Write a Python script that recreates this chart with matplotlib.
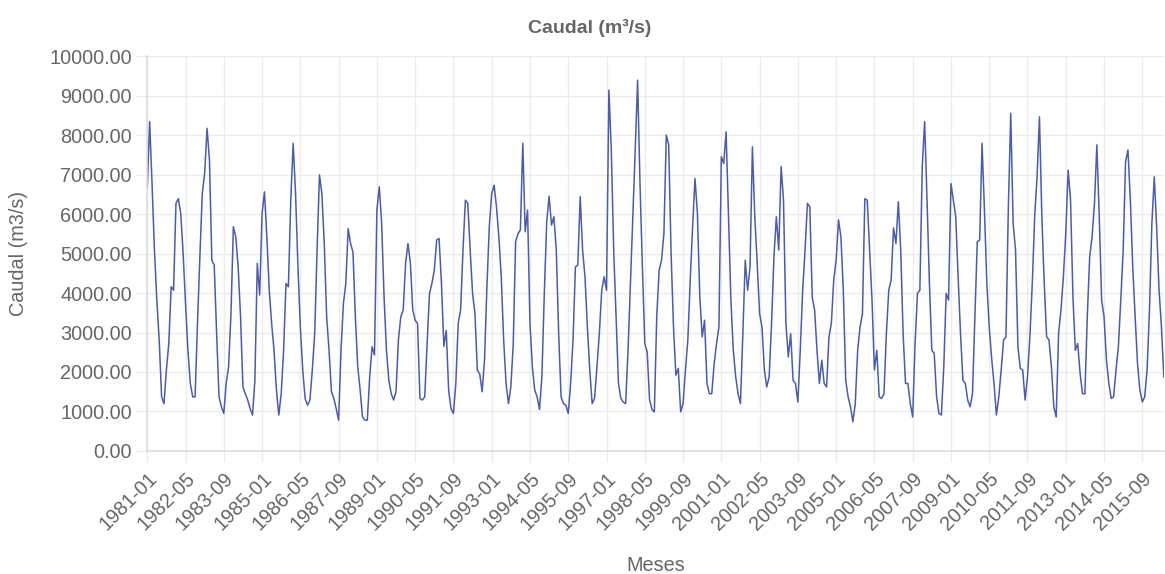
import numpy as np
import matplotlib
matplotlib.use("Agg")
import matplotlib.pyplot as plt
from matplotlib.ticker import FuncFormatter, MultipleLocator

##data (monthly flow)
start_year = 1981
caudal = [
    # 1981
    6650, 8340, 6770, 5090, 3820, 2800, 1370, 1200, 2050, 2720, 4160, 4070,
    # 1982
    6270, 6390, 6010, 5000, 3730, 2550, 1710, 1370, 1370, 3230, 4920, 6520,
    # 1983
    7030, 8170, 7370, 4830, 4710, 2970, 1370, 1120, 950, 1710, 2130, 3480,
    # 1984
    5680, 5420, 4660, 3400, 1620, 1450, 1290, 1070, 910, 1790, 4750, 3950,
    # 1985
    6010, 6560, 5420, 4070, 3230, 2550, 1540, 910, 1450, 2550, 4240, 4160,
    # 1986
    6350, 7790, 6520, 4660, 3140, 2050, 1330, 1160, 1290, 2050, 2970, 5090,
    # 1987
    6990, 6520, 5250, 3400, 2550, 1500, 1330, 1070, 780, 2550, 3730, 4240,
    # 1988
    5630, 5250, 5040, 3400, 2130, 1540, 860, 780, 780, 1880, 2640, 2430,
    # 1989
    6100, 6690, 5760, 3900, 2550, 1790, 1450, 1290, 1500, 2810, 3400, 3570,
    # 1990
    4750, 5250, 4750, 3570, 3310, 3230, 1330, 1290, 1370, 2720, 3990, 4240,
    # 1991
    4580, 5340, 5380, 4240, 2650, 3050, 1540, 1070, 950, 1710, 3230, 3570,
    # 1992
    5090, 6350, 6270, 5090, 3990, 3480, 2050, 1950, 1500, 2300, 4160, 5680,
    # 1993
    6520, 6730, 6180, 5420, 4410, 2810, 1710, 1200, 1620, 2700, 5300, 5500,
    # 1994
    5600, 7790, 5550, 6100, 3230, 2130, 1540, 1370, 1050, 1900, 4000, 5800,
    # 1995
    6450, 5720, 5930, 5090, 2970, 1370, 1200, 1160, 950, 1710, 2810, 4660,
    # 1996
    4710, 6440, 5090, 4410, 3140, 2050, 1200, 1330, 2130, 2970, 4070, 4410,
    # 1997
    4070, 9140, 7620, 5090, 3400, 1710, 1330, 1240, 1200, 2550, 4240, 5930,
    # 1998
    7620, 9390, 6770, 4660, 2720, 2510, 1300, 1050, 990, 3400, 4580, 4830,
    # 1999
    5510, 8000, 7750, 5000, 3140, 1920, 2090, 990, 1200, 2050, 2810, 4330,
    # 2000
    5680, 6900, 6010, 3900, 2890, 3310, 1710, 1450, 1450, 2210, 2720, 3140,
    # 2001
    7450, 7280, 8080, 5930, 3820, 2550, 1880, 1450, 1200, 2970, 4830, 4070,
    # 2002
    4660, 7700, 5930, 4750, 3480, 3140, 2050, 1620, 1880, 3230, 4920, 5930,
    # 2003
    5090, 7200, 6350, 3230, 2380, 2970, 1790, 1710, 1240, 2550, 4070, 5090,
    # 2004
    6270, 6180, 3900, 3570, 2550, 1710, 2300, 1710, 1620, 2890, 3230, 4330,
    # 2005
    4830, 5850, 5420, 4070, 1790, 1370, 1120, 740, 1200, 2550, 3140, 3480,
    # 2006
    6390, 6350, 5090, 3820, 2050, 2550, 1370, 1330, 1450, 2970, 4070, 4330,
    # 2007
    5650, 5250, 6310, 5090, 2970, 1710, 1710, 1200, 860, 2720, 3990, 4070,
    # 2008
    7200, 8340, 6350, 4240, 2550, 2470, 1370, 950, 910, 2130, 3990, 3820,
    # 2009
    6770, 6350, 5930, 4410, 2970, 1790, 1710, 1290, 1120, 1450, 3400, 5300,
    # 2010
    5340, 7790, 6100, 4240, 3140, 2350, 1710, 910, 1370, 2050, 2810, 2890,
    # 2011
    6180, 8550, 5760, 5090, 2640, 2090, 2050, 1290, 1880, 2890, 4240, 5930,
    # 2012
    6940, 8460, 5930, 4240, 2890, 2810, 2130, 1120, 860, 2970, 3570, 4410,
    # 2013
    5510, 7110, 6350, 3900, 2550, 2720, 1960, 1450, 1450, 3400, 4920, 5420,
    # 2014
    6270, 7750, 5930, 3820, 3400, 2300, 1710, 1330, 1370, 2050, 2640, 3820,
    # 2015
    5090, 7320, 7620, 6350, 4660, 3400, 2210, 1540, 1240, 1370, 2050, 3570,
    # 2016
    5760, 6940, 5680, 4070, 3140, 1880,
]

meses = ["%d-%02d" % (start_year + k // 12, k % 12 + 1) for k in range(len(caudal))]
tick_step = 16

#fonts / colours
plt.rcParams['font.family'] = ['Liberation Sans', 'DejaVu Sans']
grey_txt = '#666666'
grid_col = '#ececec'
line_col = '#4a5cae'
fs = 14.3

fig = plt.figure(figsize=(11.65, 5.74), dpi=100)
ax = fig.add_axes([0.1264, 0.2143, 0.8726, 0.6881])

x = np.arange(len(caudal))
ax.plot(x, caudal, color=line_col, lw=1.1)

ax.set_xlim(0, len(caudal) - 1)
ax.set_ylim(0, 10000)

#ticks
ax.set_xticks(x[::tick_step])
ax.set_xticklabels(meses[::tick_step], rotation=45, ha='right',
                   rotation_mode='anchor', fontsize=fs, color=grey_txt)
ax.yaxis.set_major_locator(MultipleLocator(1000))
ax.yaxis.set_major_formatter(FuncFormatter(lambda v, p: "%.2f" % v))
for lab in ax.get_yticklabels():
    lab.set_fontsize(fs)
    lab.set_color(grey_txt)
ax.tick_params(axis='both', length=8, width=1, color=grid_col, pad=3)
ax.tick_params(axis='x', pad=5)

#grid and frame
ax.grid(True, color=grid_col, lw=1)
ax.set_axisbelow(True)
for s in ['top', 'right']:
    ax.spines[s].set_visible(False)
for s in ['left', 'bottom']:
    ax.spines[s].set_color('#dddddd')
    ax.spines[s].set_linewidth(1.2)

#labels
ax.set_ylabel('Caudal (m3/s)', fontsize=fs, color=grey_txt, va='center')
ax.yaxis.set_label_coords(-0.127, 0.5)
ax.set_xlabel('Meses', fontsize=fs, color=grey_txt, va='center')
ax.xaxis.set_label_coords(0.5, -0.291)
fig.text(0.506, 0.951, 'Caudal (m³/s)', ha='center', va='center',
         fontsize=14, fontweight='bold', color=grey_txt)

fig.savefig('out.png', dpi=100)
